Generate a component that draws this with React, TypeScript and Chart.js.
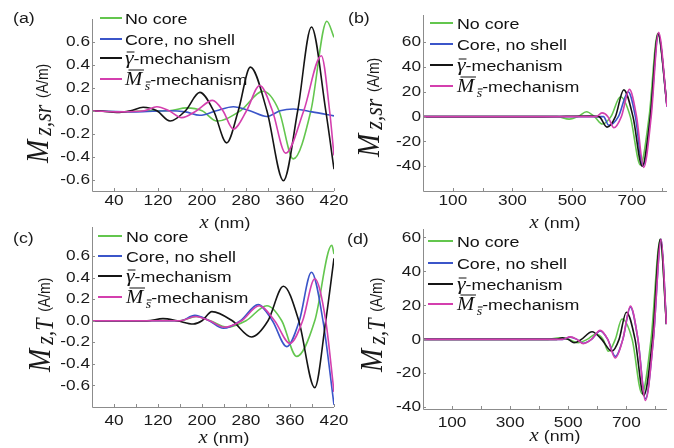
import React, { useEffect, useRef } from "react";
import { Chart, registerables } from "chart.js";
Chart.register(...registerables);

const SANS = '"Liberation Sans", Arial, Helvetica, sans-serif';
const SERIF = '"Liberation Serif", "Times New Roman", serif';
const SX = 1.15;

const SERIES = ["No core", "Core, no shell", "γ-mechanism", "Ms-mechanism"];
const COLORS = ["#63c64e", "#3b55c9", "#151515", "#d43fae"];

// ---------- Panel (a): M_z,sr (A/m) vs x (nm) ----------
const A_NOCORE_X = [0, 60, 100, 140, 172, 200, 227, 270, 311, 340, 366, 398, 427, 440];
const A_NOCORE_Y = [0, -0.01, 0, 0, 0.025, 0, -0.09, 0, 0.17, 0, -0.42, 0, 0.78, 0.64];
const A_CORE_X = [0, 80, 140, 170, 196, 226, 257, 287, 318, 342, 366, 400, 440];
const A_CORE_Y = [0, -0.01, 0, -0.01, -0.04, 0, 0.035, 0, -0.05, 0, 0.015, -0.01, -0.045];
const A_GAMMA_X = [0, 20, 45, 70, 93, 118, 142, 170, 196, 221, 245, 266, 288, 318, 348, 374, 399, 425, 440];
const A_GAMMA_Y = [0, -0.005, -0.015, 0, 0.03, 0, -0.09, 0, 0.16, 0, -0.28, 0, 0.38, 0, -0.61, 0, 0.73, 0, -0.51];
const A_MS_X = [0, 50, 95, 118, 140, 163, 190, 219, 238, 257, 281, 305, 328, 352, 385, 417, 432, 440];
const A_MS_Y = [0, -0.01, 0, 0.035, 0, -0.06, 0, 0.09, 0, -0.16, 0, 0.22, 0, -0.37, 0, 0.48, 0, -0.39];

// ---------- Panel (b): M_z,sr (A/m) vs x (nm) ----------
const B_NOCORE_X = [0, 300, 450, 490, 520, 548, 575, 601, 630, 662, 695, 729, 758, 787, 818];
const B_NOCORE_Y = [0, 0, 0, -2, 0, 4, 0, -6, 0, 16, 0, -39, 0, 67, 9];
const B_CORE_X = [0, 400, 590, 605, 623, 655, 688, 712, 737, 763, 789, 818];
const B_CORE_Y = [0, 0, 0, 0, -7, 0, 20, 0, -40, 0, 66, 8];
const B_GAMMA_X = [0, 400, 560, 590, 617, 645, 673, 704, 735, 762, 788, 818];
const B_GAMMA_Y = [0, 0, 0.5, 0, -8.5, 0, 21.6, 0, -40, 0, 67, 9];
const B_MS_X = [0, 400, 580, 600, 620, 640, 665, 692, 716, 740, 765, 790, 818];
const B_MS_Y = [0, 0, 0, 3, 0, -9, 0, 22, 0, -41, 0, 68, 8];

// ---------- Panel (c): M_z,T (A/m) vs x (nm) ----------
const C_NOCORE_X = [0, 120, 160, 190, 215, 245, 280, 318, 345, 372, 405, 436, 440];
const C_NOCORE_Y = [0, 0, 0, 0.04, 0, -0.06, 0, 0.14, 0, -0.33, 0, 0.7, 0.62];
const C_CORE_X = [0, 120, 160, 187, 213, 239, 270, 302, 328, 354, 377, 399, 420, 440];
const C_CORE_Y = [0, 0, 0, 0.05, 0, -0.07, 0, 0.15, 0, -0.24, 0, 0.45, 0, -0.78];
const C_GAMMA_X = [0, 60, 100, 129, 155, 184, 200, 218, 255, 290, 320, 348, 376, 405, 425, 440];
const C_GAMMA_Y = [0, 0, 0, 0.02, 0, -0.03, 0, 0.085, 0, -0.15, 0, 0.32, 0, -0.62, 0, 0.58];
const C_MS_X = [0, 120, 160, 188, 214, 240, 272, 304, 332, 360, 383, 405, 425, 440];
const C_MS_Y = [0, 0, 0, 0.04, 0, -0.06, 0, 0.14, 0, -0.21, 0, 0.39, 0, -0.66];

// ---------- Panel (d): M_z,T (A/m) vs x (nm) ----------
const D_NOCORE_X = [0, 350, 430, 470, 500, 535, 565, 595, 620, 638, 662, 685, 720, 754, 785, 817, 838];
const D_NOCORE_Y = [0, 0, 0, 1, 0, -2, 0, 3, 0, -7, 0, 12, 0, -32, 0, 59, 9];
const D_CORE_X = [0, 400, 480, 507, 530, 552, 580, 610, 636, 662, 688, 714, 740, 766, 793, 820, 838];
const D_CORE_Y = [0, 0, 0, 1.3, 0, -2.3, 0, 5, 0, -10, 0, 19, 0, -35, 0, 59, 9];
const D_GAMMA_X = [0, 400, 460, 480, 500, 520, 545, 582, 615, 650, 675, 700, 730, 760, 790, 817, 838];
const D_GAMMA_Y = [0, 0, 0, 1, 0, -2, 0, 4.5, 0, -7, 0, 16, 0, -33, 0, 59, 9];
const D_MS_X = [0, 400, 480, 507, 530, 552, 580, 610, 636, 662, 688, 714, 740, 766, 793, 820, 838];
const D_MS_Y = [0, 0, 0, 1.5, 0, -2.5, 0, 5.3, 0, -11, 0, 19.6, 0, -36, 0, 59, 9];

// ---------- Axis ticks ----------
const AC_XTICKS = [40, 120, 200, 280, 360, 440];
const AC_XTICK_LABELS = ["40", "120", "200", "280", "360", "420"];
const AC_XMINOR = [40, 80, 120, 160, 200, 240, 280, 320, 360, 400, 440];
const BD_XTICKS = [100, 300, 500, 700];
const BD_XTICK_LABELS = ["100", "300", "500", "700"];
const BD_XMINOR = [100, 200, 300, 400, 500, 600, 700, 800];
const AC_YTICKS = [-0.6, -0.4, -0.2, 0, 0.2, 0.4, 0.6];
const AC_YTICK_LABELS = ["-0.6", "-0.4", "-0.2", "0.0", "0.2", "0.4", "0.6"];
const B_YTICKS = [-40, -20, 0, 20, 40, 60];
const D_YTICKS = [-40, -20, 0, 20, 40, 60];
const BD_YTICK_LABELS = ["-40", "-20", "0", "20", "40", "60"];

type Part = { t: string; font: string; dy?: number; bar?: number };

const sans = (s: number) => `${s}px ${SANS}`;
const ital = (s: number) => `italic ${s}px ${SERIF}`;

const LEGEND_PARTS: Part[][] = [
  [{ t: "No core", font: sans(15.5) }],
  [{ t: "Core, no shell", font: sans(15.5) }],
  [{ t: "γ", font: ital(19), bar: 11.5 }, { t: "-mechanism", font: sans(15.5) }],
  [
    { t: "M", font: ital(18), bar: 14.5 },
    { t: " ", font: sans(8) },
    { t: "s", font: ital(12), dy: 5, bar: 7.5 },
    { t: "-mechanism", font: sans(15.5) },
  ],
];

function drawRich(ctx: CanvasRenderingContext2D, parts: Part[], x: number, y: number, align: "left" | "center", rotate = false) {
  ctx.save();
  ctx.translate(x, y);
  if (rotate) {
    ctx.rotate(-Math.PI / 2);
    ctx.scale(1, SX);
  } else {
    ctx.scale(SX, 1);
  }
  ctx.textBaseline = "alphabetic";
  ctx.textAlign = "left";
  let total = 0;
  const widths = parts.map((p) => {
    ctx.font = p.font;
    const w = ctx.measureText(p.t).width;
    total += w;
    return w;
  });
  let cx = align === "center" ? -total / 2 : 0;
  parts.forEach((p, i) => {
    ctx.font = p.font;
    const dy = p.dy || 0;
    ctx.fillText(p.t, cx, dy);
    if (p.bar) {
      const by = dy - p.bar;
      ctx.save();
      ctx.lineWidth = 1;
      ctx.strokeStyle = ctx.fillStyle as string;
      ctx.beginPath();
      ctx.moveTo(cx + widths[i] * 0.2, by);
      ctx.lineTo(cx + widths[i] * 1.1, by);
      ctx.stroke();
      ctx.restore();
    }
    cx += widths[i];
  });
  ctx.restore();
}

type Cfg = {
  letter: string;
  series: [number[], number[]][];
  xMin: number; xMax: number; yMin: number; yMax: number;
  area: { l: number; t: number; r: number; b: number };
  xTicks: number[]; xTickLabels: string[]; xMinor: number[];
  yTicks: number[]; yTickLabels: string[];
  sub: string;
  legend: { x0: number; x1: number; tx: number; rows: number[] };
  xTitle: { x: number; y: number };
  yTitle: { x: number; y: number };
  letterPos: { x: number; y: number };
  xLabelY: number;
};

const PANELS: Cfg[] = [
  {
    letter: "(a)",
    series: [[A_NOCORE_X, A_NOCORE_Y], [A_CORE_X, A_CORE_Y], [A_GAMMA_X, A_GAMMA_Y], [A_MS_X, A_MS_Y]],
    xMin: 0, xMax: 440, yMin: -0.7, yMax: 0.8,
    area: { l: 92, t: 19, r: 334, b: 191 },
    xTicks: AC_XTICKS, xTickLabels: AC_XTICK_LABELS, xMinor: AC_XMINOR,
    yTicks: AC_YTICKS, yTickLabels: AC_YTICK_LABELS,
    sub: "z,sr",
    legend: { x0: 100, x1: 122, tx: 125, rows: [18, 39, 58, 79] },
    xTitle: { x: 225, y: 228 }, yTitle: { x: 48, y: 163 }, letterPos: { x: 13, y: 19 }, xLabelY: 201,
  },
  {
    letter: "(b)",
    series: [[B_NOCORE_X, B_NOCORE_Y], [B_CORE_X, B_CORE_Y], [B_GAMMA_X, B_GAMMA_Y], [B_MS_X, B_MS_Y]],
    xMin: 0, xMax: 818, yMin: -60, yMax: 82,
    area: { l: 423, t: 15, r: 667, b: 191 },
    xTicks: BD_XTICKS, xTickLabels: BD_XTICK_LABELS, xMinor: BD_XMINOR,
    yTicks: B_YTICKS, yTickLabels: BD_YTICK_LABELS,
    sub: "z,sr",
    legend: { x0: 430, x1: 453, tx: 457, rows: [23, 44, 65, 86] },
    xTitle: { x: 555, y: 228 }, yTitle: { x: 379, y: 157 }, letterPos: { x: 348, y: 19 }, xLabelY: 201,
  },
  {
    letter: "(c)",
    series: [[C_NOCORE_X, C_NOCORE_Y], [C_CORE_X, C_CORE_Y], [C_GAMMA_X, C_GAMMA_Y], [C_MS_X, C_MS_Y]],
    xMin: 0, xMax: 440, yMin: -0.8, yMax: 0.87,
    area: { l: 92, t: 227, r: 334, b: 407 },
    xTicks: AC_XTICKS, xTickLabels: AC_XTICK_LABELS, xMinor: AC_XMINOR,
    yTicks: AC_YTICKS, yTickLabels: AC_YTICK_LABELS,
    sub: "z,T",
    legend: { x0: 98, x1: 122, tx: 126, rows: [236, 256, 276, 297] },
    xTitle: { x: 224, y: 443 }, yTitle: { x: 50, y: 372 }, letterPos: { x: 13, y: 239 }, xLabelY: 421,
  },
  {
    letter: "(d)",
    series: [[D_NOCORE_X, D_NOCORE_Y], [D_CORE_X, D_CORE_Y], [D_GAMMA_X, D_GAMMA_Y], [D_MS_X, D_MS_Y]],
    xMin: 0, xMax: 840, yMin: -41, yMax: 65,
    area: { l: 423, t: 229, r: 667, b: 409 },
    xTicks: BD_XTICKS, xTickLabels: BD_XTICK_LABELS, xMinor: BD_XMINOR,
    yTicks: D_YTICKS, yTickLabels: BD_YTICK_LABELS,
    sub: "z,T",
    legend: { x0: 428, x1: 453, tx: 457, rows: [241, 263, 284, 304] },
    xTitle: { x: 555, y: 441 }, yTitle: { x: 382, y: 372 }, letterPos: { x: 347, y: 240 }, xLabelY: 423,
  },
];

function Panel({ cfg }: { cfg: Cfg }) {
  const ref = useRef<HTMLCanvasElement>(null);
  useEffect(() => {
    const decor = {
      id: "decor",
      beforeDatasetsDraw(chart: any) {
        const ctx: CanvasRenderingContext2D = chart.ctx;
        const L = cfg.legend;
        L.rows.forEach((ry, i) => {
          ctx.save();
          ctx.strokeStyle = COLORS[i];
          ctx.lineWidth = 2;
          ctx.beginPath();
          ctx.moveTo(L.x0, ry);
          ctx.lineTo(L.x1, ry);
          ctx.stroke();
          ctx.restore();
          ctx.save();
          ctx.fillStyle = "#111";
          drawRich(ctx, LEGEND_PARTS[i], L.tx, ry + 5.5, "left");
          ctx.restore();
        });
      },
      afterDraw(chart: any) {
        const ctx: CanvasRenderingContext2D = chart.ctx;
        const xs = chart.scales.x;
        const ys = chart.scales.y;
        const { left, right, top, bottom } = chart.chartArea;
        ctx.save();
        ctx.strokeStyle = "#8c8c8c";
        ctx.lineWidth = 1;
        ctx.beginPath();
        ctx.moveTo(left + 0.5, top);
        ctx.lineTo(left + 0.5, bottom + 0.5);
        ctx.lineTo(right, bottom + 0.5);
        ctx.stroke();
        ctx.beginPath();
        cfg.xMinor.forEach((v) => {
          const px = Math.round(xs.getPixelForValue(v)) + 0.5;
          ctx.moveTo(px, bottom);
          ctx.lineTo(px, bottom - 3);
        });
        cfg.yTicks.forEach((v) => {
          const py = Math.round(ys.getPixelForValue(v)) + 0.5;
          ctx.moveTo(left, py);
          ctx.lineTo(left + 3, py);
        });
        ctx.stroke();
        ctx.fillStyle = "#1a1a1a";
        ctx.textBaseline = "middle";
        ctx.font = sans(15);
        cfg.xTicks.forEach((v, i) => {
          const px = xs.getPixelForValue(v);
          ctx.save();
          ctx.translate(px, cfg.xLabelY);
          ctx.scale(SX, 1);
          ctx.textAlign = "center";
          ctx.fillText(cfg.xTickLabels[i], 0, 0);
          ctx.restore();
        });
        cfg.yTicks.forEach((v, i) => {
          const py = ys.getPixelForValue(v);
          ctx.save();
          ctx.translate(left - 2, py);
          ctx.scale(SX, 1);
          ctx.textAlign = "right";
          ctx.fillText(cfg.yTickLabels[i], 0, 0);
          ctx.restore();
        });
        ctx.save();
        ctx.translate(cfg.letterPos.x, cfg.letterPos.y);
        ctx.scale(SX, 1);
        ctx.textAlign = "left";
        ctx.font = sans(15.5);
        ctx.fillText(cfg.letter, 0, 0);
        ctx.restore();
        drawRich(ctx, [
          { t: "x", font: ital(18) },
          { t: " (nm)", font: sans(15.5) },
        ], cfg.xTitle.x, cfg.xTitle.y, "center");
        drawRich(ctx, [
          { t: "M", font: ital(28) },
          { t: "  ", font: sans(7) },
          { t: cfg.sub, font: ital(22), dy: 3 },
          { t: "  ", font: sans(12) },
          { t: "(A/m)", font: sans(14) },
        ], cfg.yTitle.x, cfg.yTitle.y, "left", true);
        ctx.restore();
      },
    };
    const chart = new Chart(ref.current as HTMLCanvasElement, {
      type: "line",
      data: {
        datasets: cfg.series.map(([xv, yv], i) => ({
          label: SERIES[i],
          data: xv.map((x, j) => ({ x, y: yv[j] })),
          borderColor: COLORS[i],
          backgroundColor: COLORS[i],
          borderWidth: 1.6,
          pointRadius: 0,
          fill: false,
          cubicInterpolationMode: "monotone" as const,
          order: 3 - i,
        })),
      },
      options: {
        responsive: false,
        animation: false,
        events: [],
        layout: {
          padding: { left: cfg.area.l, top: cfg.area.t, right: 674 - cfg.area.r, bottom: 448 - cfg.area.b },
        },
        scales: {
          x: { type: "linear", display: false, min: cfg.xMin, max: cfg.xMax },
          y: { type: "linear", display: false, min: cfg.yMin, max: cfg.yMax },
        },
        plugins: { legend: { display: false }, tooltip: { enabled: false } },
      },
      plugins: [decor],
    });
    return () => chart.destroy();
  }, [cfg]);
  return <canvas ref={ref} width={674} height={448} style={{ position: "absolute", left: 0, top: 0 }} />;
}

export default function App() {
  return (
    <div style={{ position: "fixed", left: 0, top: 0, width: 674, height: 448, background: "#fff", overflow: "hidden" }}>
      {PANELS.map((p) => (
        <Panel key={p.letter} cfg={p} />
      ))}
    </div>
  );
}
